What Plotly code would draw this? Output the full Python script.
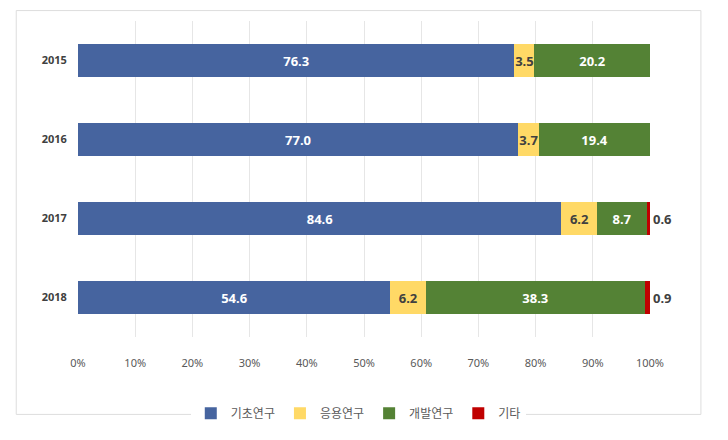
import plotly.graph_objects as go

years = ["2015", "2016", "2017", "2018"]
basic = [76.3, 77.0, 84.6, 54.6]
applied = [3.5, 3.7, 6.2, 6.2]
development = [20.2, 19.4, 8.7, 38.3]
other = [0.0, 0.0, 0.6, 0.9]
x_ticks = [0, 10, 20, 30, 40, 50, 60, 70, 80, 90, 100]

series = [
    ("기초연구", basic, "#46649F", "white"),
    ("응용연구", applied, "#FFD966", "#404040"),
    ("개발연구", development, "#548235", "white"),
]

fig = go.Figure()
for name, vals, color, tcolor in series:
    fig.add_trace(go.Bar(
        y=years, x=vals, name=name, orientation="h",
        marker=dict(color=color, line=dict(width=0)),
        text=[f"{v:.1f}" for v in vals], textposition="inside",
        insidetextanchor="middle", textangle=0, constraintext="none",
        textfont=dict(color=tcolor, size=13, family="Noto Sans", weight="bold"),
        hoverinfo="skip",
    ))

# "기타" is small, its value sits outside the bar end
fig.add_trace(go.Bar(
    y=years, x=other, name="기타", orientation="h",
    marker=dict(color="#C00000", line=dict(width=0)),
    text=[f"{v:.1f}" if v > 0 else "" for v in other], textposition="outside",
    textangle=0, constraintext="none", cliponaxis=False,
    textfont=dict(color="#404040", size=13, family="Noto Sans", weight="bold"),
    hoverinfo="skip",
))

# light chart border
fig.add_shape(type="rect", xref="paper", yref="paper",
              x0=-0.108, x1=1.089, y0=-0.245, y1=1.033,
              line=dict(color="#DDDDDD", width=1), fillcolor="rgba(0,0,0,0)")

# the page adds an 8px body margin, so the figure is 8px smaller
fig.update_layout(
    width=720, height=432,
    margin=dict(l=70, r=78, t=13, b=88),
    barmode="stack", barnorm="percent", bargap=0.59,
    paper_bgcolor="white", plot_bgcolor="white",
    font=dict(family="Noto Sans CJK KR", color="#595959"),
    xaxis=dict(range=[0, 100], tickmode="array", tickvals=x_ticks,
               ticktext=[f"{t}%" for t in x_ticks],
               ticks="outside", ticklen=16, tickcolor="rgba(0,0,0,0)",
               showgrid=True, gridcolor="#E6E6E6", gridwidth=1,
               zeroline=False, showline=False,
               tickfont=dict(size=11, color="#595959", family="Noto Sans")),
    yaxis=dict(type="category", autorange="reversed", showgrid=False, showline=False,
               ticks="outside", ticklen=8, tickcolor="rgba(0,0,0,0)",
               tickfont=dict(size=11, color="#404040", family="Noto Sans",
                             weight="bold")),
    legend=dict(orientation="h", x=0.49, xanchor="center", y=-0.241, yanchor="middle",
                font=dict(size=12, color="#595959"),
                traceorder="normal"),
)

fig.write_html("out.html")
